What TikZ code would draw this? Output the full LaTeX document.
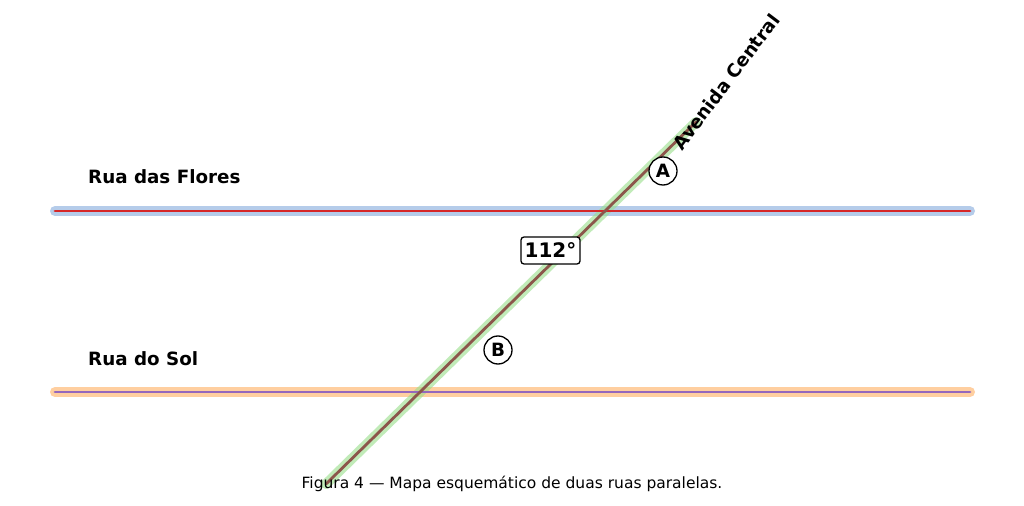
\documentclass[tikz,border=0pt]{standalone}
\usepackage{fontspec}
\setmainfont{DejaVu Sans}
\definecolor{bandblue}{HTML}{AEC7E8}
\definecolor{bandorange}{HTML}{FFBB78}
\definecolor{bandgreen}{HTML}{98DF8A}
\definecolor{linered}{HTML}{D62728}
\definecolor{linepurple}{HTML}{9467BD}
\definecolor{linebrown}{HTML}{8C564B}
\tikzset{
  band/.style={line width=10bp, line cap=round},
  core/.style={line width=2.8bp, line cap=round},
  streetlabel/.style={font=\fontsize{18.3bp}{20bp}\selectfont\bfseries, inner sep=0pt},
  pointlabel/.style={circle, draw, line width=1.3bp, fill=white, minimum size=28bp, inner sep=0pt, font=\fontsize{18.3bp}{20bp}\selectfont\bfseries},
  anglebox/.style={draw, line width=1.3bp, rounded corners=3bp, fill=white, minimum width=59bp, minimum height=27bp, inner sep=0pt, font=\fontsize{20bp}{22bp}\selectfont\bfseries},
  caption/.style={font=\fontsize{15.5bp}{18bp}\selectfont, inner sep=0pt}
}
\begin{document}
\begin{tikzpicture}[x=1bp, y=-1bp]
\useasboundingbox (0,0) rectangle (1024,506);
\fill[white] (0,0) rectangle (1024,506);
% street endpoints
\coordinate (f1) at (55,211);
\coordinate (f2) at (970,211);
\coordinate (s1) at (55,392);
\coordinate (s2) at (970,392);
\coordinate (a1) at (326,484);
\coordinate (a2) at (696,122);
% bands
\draw[band, bandblue, opacity=0.9] (f1) -- (f2);
\draw[band, bandorange, opacity=0.7] (s1) -- (s2);
\draw[band, bandgreen, opacity=0.6] (a1) -- (a2);
% cores
\draw[core, linered] (f1) -- (f2);
\draw[core, linepurple] (s1) -- (s2);
\draw[core, linebrown] (a1) -- (a2);
% labels
\node[streetlabel, anchor=base west] (lf) at (88,184) {Rua das Flores};
\node[streetlabel, anchor=base west] (ls) at (88,366) {Rua do Sol};
\node[streetlabel, rotate=53] (la) at (726,82) {Avenida Central};
\node[pointlabel] (pa) at (663,171) {A};
\node[pointlabel] (pb) at (498,350) {B};
\node[anglebox] (ang) at (550.5,250.5) {112°};
\node[caption, anchor=base] (cap) at (512,488) {Figura 4 — Mapa esquemático de duas ruas paralelas.};
\end{tikzpicture}
\end{document}
